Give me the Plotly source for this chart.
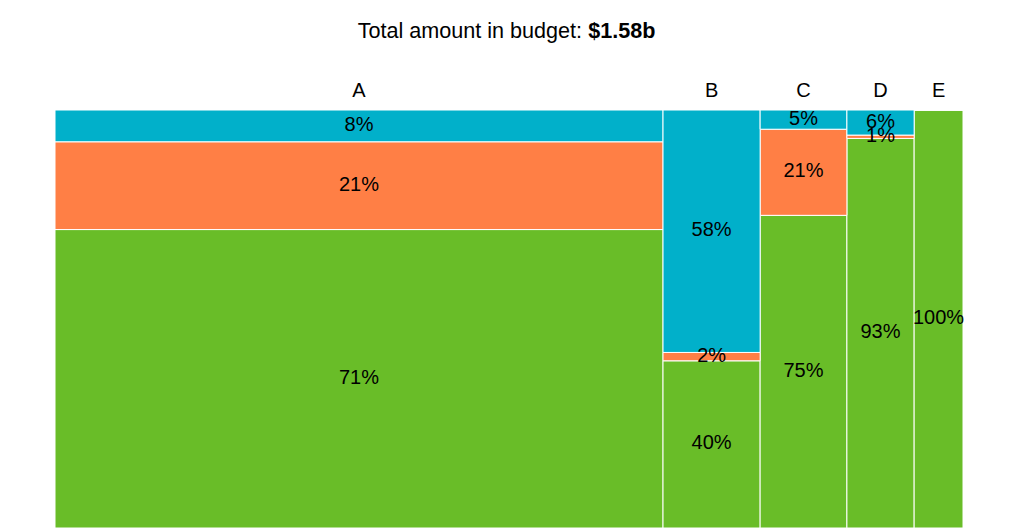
import plotly.graph_objects as go

categories = ["A", "B", "C", "D", "E"]
totals_m = [1058, 169, 151, 117, 85]  # column budget, $m
green_share = [0.714, 0.40, 0.748, 0.932, 1.00]
orange_share = [0.210, 0.02, 0.206, 0.008, 0.0]
blue_share = [0.076, 0.58, 0.046, 0.060, 0.0]
series_names = ["Green", "Orange", "Blue"]
series_colors = ["#69bd28", "#ff7f45", "#01b0ca"]

total = sum(totals_m)
lefts = []
acc = 0
for t in totals_m:
    lefts.append(acc)
    acc += t
centers = [l + t / 2 for l, t in zip(lefts, totals_m)]

fig = go.Figure()
shares = [green_share, orange_share, blue_share]
base = [0.0] * len(categories)
lab_x, lab_y, lab_t = [], [], []
for name, color, vals in zip(series_names, series_colors, shares):
    fig.add_trace(go.Bar(
        x=centers, y=vals, width=totals_m, base=base, name=name,
        marker=dict(color=color, line=dict(color="white", width=1)),
        hoverinfo="skip", showlegend=False,
    ))
    for i, v in enumerate(vals):
        if v > 0:
            lab_x.append(centers[i])
            lab_y.append(base[i] + v / 2)
            lab_t.append(f"{round(v * 100):.0f}%")
    base = [b + v for b, v in zip(base, vals)]

fig.add_trace(go.Scatter(
    x=lab_x, y=lab_y, text=lab_t, mode="text",
    textfont=dict(size=20, color="black", family="Liberation Sans, Arial"),
    hoverinfo="skip", showlegend=False, cliponaxis=False,
))

fig.update_layout(
    barmode="overlay",
    width=1016, height=528,
    margin=dict(l=47, r=61, t=102, b=8),
    paper_bgcolor="white", plot_bgcolor="white",
    font=dict(family="Liberation Sans, Arial", size=20, color="black"),
    title=dict(text=f"Total amount in budget: <b>${total/1000:.2f}b</b>",
               x=498.5 / 1016, xanchor="center",
               y=1 - 22 / 528, yanchor="middle",
               font=dict(size=21.6, color="black")),
    xaxis=dict(range=[0, total], side="top", tickmode="array",
               tickvals=centers, ticktext=categories, showgrid=False,
               zeroline=False, showline=False, ticks="outside", ticklen=4,
               tickcolor="rgba(0,0,0,0)", tickfont=dict(size=20)),
    yaxis=dict(range=[0, 1], visible=False, showgrid=False, zeroline=False),
)

fig.write_html("out.html")
